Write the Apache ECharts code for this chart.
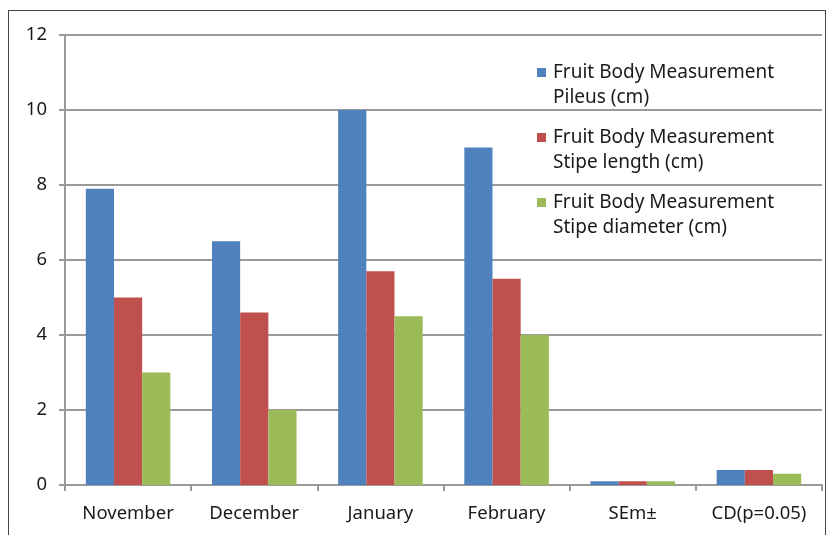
<!DOCTYPE html>
<html>
<head>
<meta charset="utf-8">
<script src="https://cdn.jsdelivr.net/npm/echarts@6/dist/echarts.min.js"></script>
<style>
  html, body { margin: 0; padding: 0; background: #fff; }
  #frame { position: absolute; left: 8px; top: 10px; width: 818px; height: 530px; border: 1.5px solid #444; box-sizing: border-box; }
  #chart { position: absolute; left: 0; top: 0; width: 828px; height: 535px; }
</style>
</head>
<body>
<div id="frame"></div>
<div id="chart"></div>
<script>
// Categories along the x axis
const categories = ['November', 'December', 'January', 'February', 'SEm±', 'CD(p=0.05)'];

// Fruit body measurements (cm)
const pileus = [7.9, 6.5, 10.0, 9.0, 0.1, 0.4];
const stipeLength = [5.0, 4.6, 5.7, 5.5, 0.1, 0.4];
const stipeDiameter = [3.0, 2.0, 4.5, 4.0, 0.1, 0.3];

const seriesNames = [
  'Fruit Body Measurement\nPileus (cm)',
  'Fruit Body Measurement\nStipe length (cm)',
  'Fruit Body Measurement\nStipe diameter (cm)'
];
const seriesColors = ['#4f81bd', '#c0504d', '#9bbb59'];

const FONT = 'Noto Sans';
const TEXT = '#1a1a1a';
const GRID = '#9a9a9a';

const chart = echarts.init(document.getElementById('chart'), null, { renderer: 'canvas' });

chart.setOption({
  backgroundColor: 'transparent',
  animation: false,
  color: seriesColors,
  grid: { left: 65, right: 6, top: 35, bottom: 50, containLabel: false },
  legend: {
    orient: 'vertical',
    left: 537,
    top: 35,
    padding: 0,
    itemGap: -10,
    itemWidth: 9,
    itemHeight: 9,
    icon: 'rect',
    selectedMode: false,
    // a blank leading line keeps the swatch level with the first text line
    formatter: name => '\n' + name,
    textStyle: {
      fontFamily: FONT,
      fontSize: 19,
      color: TEXT,
      lineHeight: 25,
      padding: [0, 0, 0, 2]
    },
    data: seriesNames
  },
  xAxis: {
    type: 'category',
    data: categories,
    axisLine: { lineStyle: { color: GRID, width: 2 } },
    axisTick: { show: true, alignWithLabel: false, length: 6, lineStyle: { color: GRID, width: 2 } },
    axisLabel: { fontFamily: FONT, fontSize: 18.5, color: TEXT, margin: 19 }
  },
  yAxis: {
    type: 'value',
    min: 0,
    max: 12,
    interval: 2,
    axisLine: { show: true, lineStyle: { color: GRID, width: 2 } },
    axisTick: { show: true, length: 6, lineStyle: { color: GRID, width: 2 } },
    axisLabel: { fontFamily: FONT, fontSize: 18.5, color: TEXT, margin: 18 },
    splitLine: { show: true, lineStyle: { color: GRID, width: 2 } }
  },
  series: [
    { name: seriesNames[0], type: 'bar', data: pileus, barGap: '0%', barCategoryGap: '33%' },
    { name: seriesNames[1], type: 'bar', data: stipeLength, barGap: '0%', barCategoryGap: '33%' },
    { name: seriesNames[2], type: 'bar', data: stipeDiameter, barGap: '0%', barCategoryGap: '33%' }
  ]
});
</script>
</body>
</html>
